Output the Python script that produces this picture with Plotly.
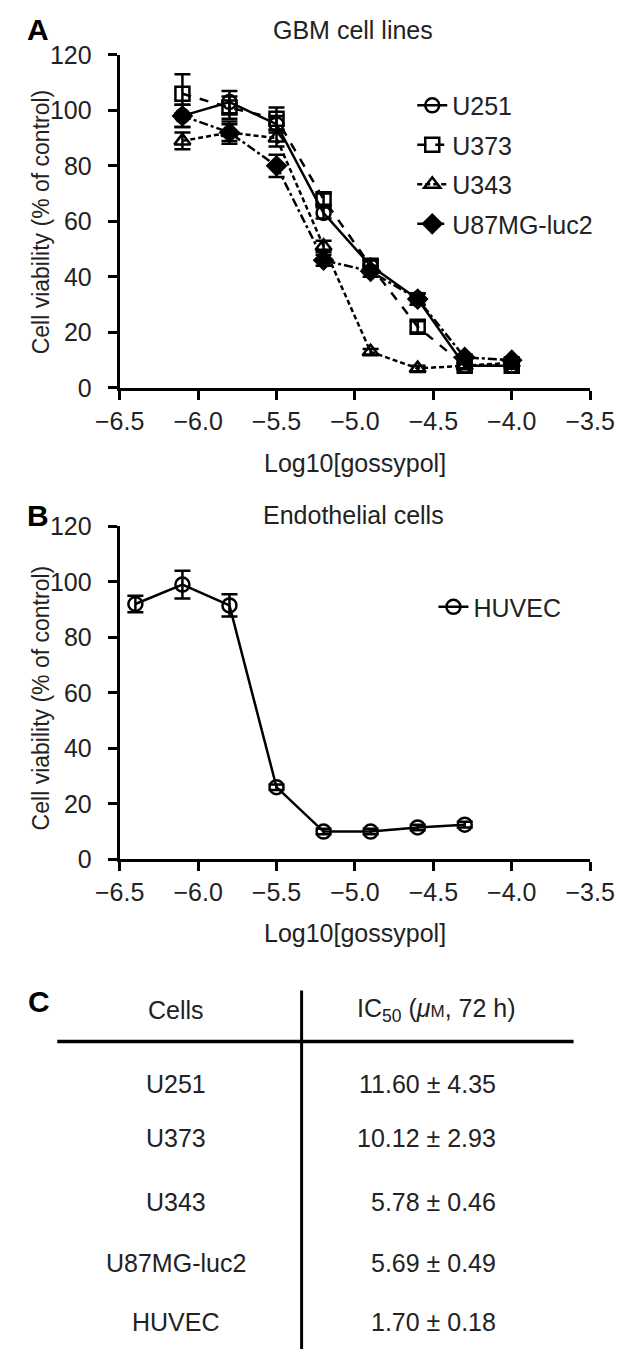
import plotly.graph_objects as go

# ---- data ----
log_conc_gbm = [-6.1, -5.8, -5.5, -5.2, -4.9, -4.6, -4.3, -4.0]
u251 = [98, 103, 95, 63, 44, 32, 8, 8]
u251_err = [4, 4, 3, 2, 2, 2, 1, 1]
u373 = [106, 101, 97, 68, 44, 22, 8, 8]
u373_err = [7, 4, 4, 2, 2, 2, 1, 1]
u343 = [89, 92, 90, 51, 13, 7, 8, 9]
u343_err = [3, 3, 3, 2, 1, 1, 1, 1]
u87 = [98, 92, 80, 46, 42, 32, 11, 10]
u87_err = [4, 4, 4, 2, 2, 2, 1, 1]

log_conc_huvec = [-6.4, -6.1, -5.8, -5.5, -5.2, -4.9, -4.6, -4.3]
huvec = [92, 99, 91.5, 26, 10, 10, 11.5, 12.5]
huvec_err = [3, 5, 4, 1, 1, 1, 1, 1]

table_cells = ["U251", "U373", "U343", "U87MG-luc2", "HUVEC"]
ic50_mean = ["11.60", "10.12", "5.78", "5.69", "1.70"]
ic50_sd = ["4.35", "2.93", "0.46", "0.49", "0.18"]

FONT = "Liberation Sans, Arial, sans-serif"
FS = 25
TXT = "#222"
W, H = 641, 1367


def px_x(p):
    return p / W


def px_y(p):
    return 1 - p / H


series = [
    ("U251", u251, u251_err, "circle-open", "solid"),
    ("U373", u373, u373_err, "square-open", "dash"),
    ("U343", u343, u343_err, "triangle-up-open", "5px,3px"),
    ("U87MG-luc2", u87, u87_err, "diamond", "dashdot"),
]

fig = go.Figure()
for name, ys, errs, sym, dash in series:
    fig.add_trace(go.Scatter(
        x=log_conc_gbm, y=ys, name=name, mode="lines+markers",
        line=dict(color="black", width=2.5, dash=dash),
        marker=dict(symbol=sym, size=14, color="black",
                    line=dict(color="black", width=2.5)),
        error_y=dict(type="data", array=errs, color="black", thickness=2.5, width=8),
        cliponaxis=False, legend="legend", legendgroup=name,
        xaxis="x", yaxis="y",
    ))

fig.add_trace(go.Scatter(
    x=log_conc_huvec, y=huvec, name="HUVEC", mode="lines+markers",
    line=dict(color="black", width=2.5),
    marker=dict(symbol="circle-open", size=14, color="black",
                line=dict(color="black", width=2.5)),
    error_y=dict(type="data", array=huvec_err, color="black", thickness=2.5, width=8),
    cliponaxis=False, legend="legend2",
    xaxis="x2", yaxis="y2",
))

axis_common = dict(
    showline=True, linecolor="black", linewidth=3, mirror=False,
    ticks="outside", ticklen=9, tickwidth=3, tickcolor="black",
    showgrid=False, zeroline=False,
    tickfont=dict(family=FONT, size=FS, color=TXT),
)

xdom = [px_x(102.7), px_x(613)]
fig.update_layout(
    width=W, height=H, autosize=False,
    paper_bgcolor="white", plot_bgcolor="white",
    margin=dict(l=0, r=0, t=0, b=0),
    font=dict(family=FONT, size=FS, color=TXT),
    xaxis=dict(**axis_common, domain=xdom, range=[-6.5, -3.5], dtick=0.5,
               tickformat=".1f", anchor="y", ticklabelstandoff=0),
    yaxis=dict(**axis_common, domain=[px_y(381.7), px_y(41.7)], range=[0, 120],
               dtick=20, anchor="x", ticklabelstandoff=11),
    xaxis2=dict(**axis_common, domain=xdom, range=[-6.5, -3.5], dtick=0.5,
                tickformat=".1f", anchor="y2", ticklabelstandoff=0),
    yaxis2=dict(**axis_common, domain=[px_y(863), px_y(523)], range=[0, 120],
                dtick=20, anchor="x2", ticklabelstandoff=11),
    legend=dict(x=px_x(420), y=px_y(70), xanchor="left", yanchor="top",
                font=dict(family=FONT, size=FS, color=TXT),
                tracegroupgap=4, bgcolor="rgba(0,0,0,0)"),
    legend2=dict(x=px_x(443), y=px_y(582), xanchor="left", yanchor="top",
                 font=dict(family=FONT, size=FS, color=TXT),
                 bgcolor="rgba(0,0,0,0)"),
    showlegend=True,
)

ann = []


def text(t, x, y, size=FS, bold=False, angle=0, xanchor="center"):
    ann.append(dict(
        text=f"<b>{t}</b>" if bold else t, x=px_x(x), y=px_y(y),
        xref="paper", yref="paper", showarrow=False, textangle=angle,
        xanchor=xanchor, yanchor="middle",
        font=dict(family=FONT, size=size, color="black" if bold else TXT),
    ))


# panel labels and titles
text("A", 14, 16, size=30, bold=True)
text("B", 14, 512, size=30, bold=True)
text("C", 15, 1008, size=30, bold=True)
text("GBM cell lines", 356, 16)
text("Endothelial cells", 356, 511)
text("Log10[gossypol]", 358, 458)
text("Log10[gossypol]", 358, 938)
text("Cell viability (% of control)", 17, 212, size=23, angle=-90)
text("Cell viability (% of control)", 17, 698, size=23, angle=-90)

# table
text("Cells", 164, 1017)
text("IC<sub>50</sub> (<i>μ</i><span style='font-size:17px'>M</span>, 72 h)", 446, 1017)
row_y = [1092, 1148, 1213, 1275, 1335]
for cell, m, s, ry in zip(table_cells, ic50_mean, ic50_sd, row_y):
    text(cell, 164, ry)
    text(f"{m} ± {s}", 513, ry, xanchor="right")

fig.update_layout(
    annotations=ann,
    shapes=[
        dict(type="line", xref="paper", yref="paper",
             x0=px_x(35), x1=px_x(595), y0=px_y(1049), y1=px_y(1049),
             line=dict(color="black", width=3.5)),
        dict(type="line", xref="paper", yref="paper",
             x0=px_x(300), x1=px_x(300), y0=px_y(997), y1=px_y(1363),
             line=dict(color="black", width=3)),
    ],
)

fig.write_html("out.html", config={"displayModeBar": False},
               post_script="document.body.style.margin='0';")
